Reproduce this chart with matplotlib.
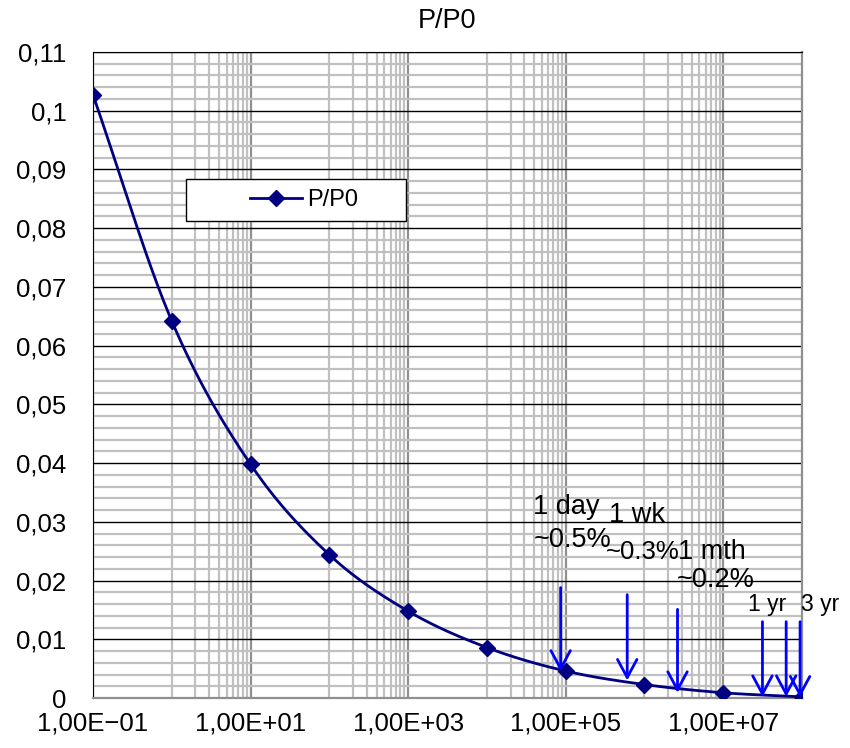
"""P/P0 decay curve on a log-100 time axis, with time-marker arrows."""

import matplotlib
import numpy as np

matplotlib.use("Agg")
import matplotlib.pyplot as plt
from matplotlib.patches import Rectangle
from matplotlib.ticker import FixedLocator, FuncFormatter, NullFormatter

plt.rcParams["font.family"] = ["Liberation Sans", "DejaVu Sans"]

# data
t = [1e-1, 1e0, 1e1, 1e2, 1e3, 1e4, 1e5, 1e6, 1e7, 1e8]
p_p0 = [0.1027, 0.0642, 0.0398, 0.0244, 0.0148, 0.0086, 0.0046, 0.0023, 0.0009, 0.0002]

# time markers: (time in s, arrow top, arrow tip)
marker_t = [86400, 604800, 2.63e6, 3.15e7, 6.3e7, 9.46e7]
marker_top = [0.0188, 0.0176, 0.0151, 0.0130, 0.0130, 0.0130]
marker_tip = [0.0045, 0.0030, 0.0009, 0.0002, 0.0002, 0.0001]

x_major = [1e-1, 1e1, 1e3, 1e5, 1e7]
x_minor = [k * 10.0 ** e for e in (0, 2, 4, 6) for k in range(1, 10)]

NAVY = "#000080"


def smooth(xs, ys, n=40):
    # Catmull-Rom through the points in (log x, y), like Excel's smoothed line
    lx = np.log10(xs)
    ys = np.asarray(ys)
    px = np.concatenate([[2 * lx[0] - lx[1]], lx, [2 * lx[-1] - lx[-2]]])
    py = np.concatenate([[2 * ys[0] - ys[1]], ys, [2 * ys[-1] - ys[-2]]])
    out_x, out_y = [], []
    s = np.linspace(0, 1, n)
    for i in range(1, len(px) - 2):
        for P, out in ((px, out_x), (py, out_y)):
            p0, p1, p2, p3 = P[i - 1:i + 3]
            out.append(0.5 * (2 * p1 + (-p0 + p2) * s
                              + (2 * p0 - 5 * p1 + 4 * p2 - p3) * s ** 2
                              + (-p0 + 3 * p1 - 3 * p2 + p3) * s ** 3))
    return 10 ** np.concatenate(out_x), np.concatenate(out_y)


fig = plt.figure(figsize=(8.5, 7.48), dpi=100)
ax = fig.add_axes([0.1094, 0.0668, 0.9435 - 0.1094, 0.9305 - 0.0668])

ax.set_xscale("log")
ax.set_xlim(1e-1, 1e8)
ax.set_ylim(0, 0.11)

# grid
ax.xaxis.set_major_locator(FixedLocator(x_major))
ax.xaxis.set_minor_locator(FixedLocator(x_minor))
ax.xaxis.set_minor_formatter(NullFormatter())
ax.yaxis.set_major_locator(FixedLocator(np.arange(0, 0.1101, 0.01)))
ax.yaxis.set_minor_locator(FixedLocator(np.arange(0, 0.1101, 0.002)))
ax.grid(axis="x", which="minor", color="#c0c0c0", lw=1.6)
ax.grid(axis="x", which="major", color="#909090", lw=1.6)
ax.grid(axis="y", which="minor", color="#c0c0c0", lw=1.6)
ax.grid(axis="y", which="major", color="black", lw=1.0)
ax.set_axisbelow(True)
for side in ("left", "top"):
    ax.spines[side].set_color("black")
for side in ("right", "bottom"):
    ax.spines[side].set_color("#909090")
    ax.spines[side].set_linewidth(1.6)
ax.tick_params(which="both", length=0, labelsize=18.5, colors="black")
ax.tick_params(axis="x", pad=10)
ax.tick_params(axis="y", pad=19)


def fmt_y(v, _):
    s = f"{v:.2f}".rstrip("0").rstrip(".")
    return s.replace(".", ",")


def fmt_x(v, _):
    e = int(round(np.log10(v)))
    sign = "+" if e >= 0 else "\u2212"
    return f"1,00E{sign}{abs(e):02d}"


ax.yaxis.set_major_formatter(FuncFormatter(fmt_y))
ax.xaxis.set_major_formatter(FuncFormatter(fmt_x))

sx, sy = smooth(t, p_p0)
ax.plot(sx, sy, color=NAVY, lw=2, zorder=3)
ax.plot(t, p_p0, ls="none", marker="D", ms=8, color=NAVY, zorder=4)
handle, = ax.plot([], [], color=NAVY, lw=2, marker="D", ms=8, label="P/P0")

# legend box (frame drawn separately so the entry sits centred in it)
ax.add_patch(Rectangle((0.131, 0.738), 0.3105, 0.065, transform=ax.transAxes,
                       facecolor="white", edgecolor="black", lw=1, zorder=7))
leg = ax.legend(handles=[handle], loc="center", bbox_to_anchor=(0.2976, 0.771),
                frameon=False, fontsize=17, handlelength=2.2, handletextpad=0.25,
                borderaxespad=0, borderpad=0)
leg.set_zorder(8)

ax.set_title("P/P0", fontsize=19.5, pad=17)

# time-marker arrows
for x, y0, y1 in zip(marker_t, marker_top, marker_tip):
    ax.annotate("", xy=(x, y1), xytext=(x, y0),
                arrowprops=dict(arrowstyle="->,head_length=1.3,head_width=0.7",
                                color="#0000ff", lw=2, shrinkA=0, shrinkB=0),
                zorder=5)

labels = [("1 day", 3.9e4, 0.0325, 19.5), ("~0.5%", 3.9e4, 0.0269, 19.5),
          ("1 wk", 3.5e5, 0.0312, 19.5), ("~0.3%", 3.2e5, 0.0249, 18.5),
          ("1 mth", 2.7e6, 0.0249, 19.5), ("~0.2%", 2.56e6, 0.0201, 19.5),
          ("1 yr", 2.04e7, 0.0160, 16.5), ("3 yr", 9.6e7, 0.0160, 16.5)]
for s, x, y, fs in labels:
    ax.text(x, y, s, fontsize=fs, ha="left", va="center", zorder=6, clip_on=False)

fig.savefig("out.png")
